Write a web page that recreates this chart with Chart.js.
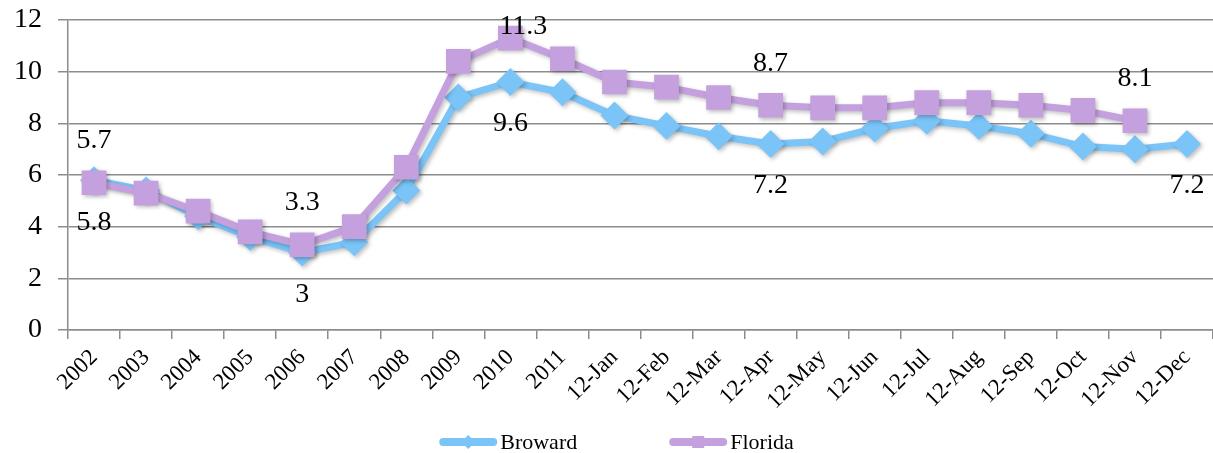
<!DOCTYPE html>
<html>
<head>
<meta charset="utf-8">
<script src="https://cdn.jsdelivr.net/npm/chart.js@4/dist/chart.umd.min.js"></script>
<style>
    html, body { margin: 0; padding: 0; background: #fff; overflow: hidden; }
    canvas { display: block; }
</style>
</head>
<body>
<canvas id="myChart" width="1213" height="453"></canvas>
<script>
// Данные
const labels = ['2002', '2003', '2004', '2005', '2006', '2007', '2008', '2009', '2010', '2011',
    '12-Jan', '12-Feb', '12-Mar', '12-Apr', '12-May', '12-Jun', '12-Jul', '12-Aug', '12-Sep',
    '12-Oct', '12-Nov', '12-Dec'];
const broward = [5.8, 5.4, 4.4, 3.6, 3, 3.4, 5.4, 9.0, 9.6, 9.2,
    8.3, 7.9, 7.5, 7.2, 7.3, 7.8, 8.1, 7.9, 7.6, 7.1, 7.0, 7.2];
const florida = [5.7, 5.3, 4.6, 3.8, 3.3, 4.0, 6.3, 10.4, 11.3, 10.5,
    9.6, 9.4, 9.0, 8.7, 8.6, 8.6, 8.8, 8.8, 8.7, 8.5, 8.1, null];
// Какие точки подписаны
const browardLabeled = [0, 4, 8, 13, 21];
const floridaLabeled = [0, 4, 8, 13, 20];

const blue = '#7AC4F8';
const purple = '#C4A0DE';
const serif = "'Liberation Serif', 'Times New Roman', serif";

// Тень под линиями
const shadowPlugin = {
    id: 'shadow',
    beforeDatasetsDraw(chart) {
        const ctx = chart.ctx;
        ctx.save();
        ctx.shadowColor = 'rgba(0,0,0,0.25)';
        ctx.shadowBlur = 4;
        ctx.shadowOffsetX = 2;
        ctx.shadowOffsetY = 2;
    },
    afterDatasetsDraw(chart) {
        chart.ctx.restore();
    }
};

// Подписи значений
const valueLabels = {
    id: 'valueLabels',
    afterDatasetsDraw(chart) {
        const ctx = chart.ctx;
        ctx.save();
        ctx.font = '28px ' + serif;
        ctx.fillStyle = '#000';
        ctx.textAlign = 'center';
        ctx.textBaseline = 'middle';
        const sets = [[0, browardLabeled, 42], [1, floridaLabeled, -42]];
        sets.forEach(([dsIndex, idxs, offset]) => {
            const meta = chart.getDatasetMeta(dsIndex);
            const data = chart.data.datasets[dsIndex].data;
            idxs.forEach((i) => {
                const pt = meta.data[i];
                if (!pt || data[i] === null) return;
                let y = pt.y + offset;
                let x = pt.x;
                // Excel сдвигает подпись, если она упирается в верх
                if (y < 27) {
                    y = 27;
                    x += 13;
                }
                ctx.fillText(String(data[i]), x, y);
            });
        });
        ctx.restore();
    }
};

// Легенда снизу
const bottomLegend = {
    id: 'bottomLegend',
    afterDraw(chart) {
        const ctx = chart.ctx;
        ctx.save();
        ctx.font = '22px ' + serif;
        ctx.textBaseline = 'middle';
        const lineW = 58;
        const gap = 92;
        const items = chart.data.datasets.map((ds) => ({
            ds: ds,
            w: lineW + 3 + ctx.measureText(ds.label).width
        }));
        const total = items.reduce((s, it) => s + it.w, 0) + gap * (items.length - 1);
        let x = (chart.width - total) / 2 + 10;
        const y = 442;
        items.forEach((it) => {
            const ds = it.ds;
            ctx.strokeStyle = ds.borderColor;
            ctx.lineWidth = 8;
            ctx.lineCap = 'round';
            ctx.beginPath();
            ctx.moveTo(x + 4, y);
            ctx.lineTo(x + lineW - 4, y);
            ctx.stroke();
            ctx.fillStyle = ds.borderColor;
            const cx = x + lineW / 2;
            if (ds.pointStyle === 'rect') {
                ctx.fillRect(cx - 6, y - 6, 12, 12);
            } else {
                ctx.beginPath();
                ctx.moveTo(cx, y - 7);
                ctx.lineTo(cx + 7, y);
                ctx.lineTo(cx, y + 7);
                ctx.lineTo(cx - 7, y);
                ctx.closePath();
                ctx.fill();
            }
            ctx.fillStyle = '#000';
            ctx.fillText(ds.label, x + lineW + 3, y + 1);
            x += it.w + gap;
        });
        ctx.restore();
    }
};

const ctx = document.getElementById('myChart');
new Chart(ctx, {
    type: 'line',
    data: {
        labels: labels,
        datasets: [
            {
                label: 'Broward',
                data: broward,
                order: 1,
                borderColor: blue,
                backgroundColor: blue,
                borderWidth: 7,
                pointStyle: 'rectRot',
                pointRadius: 14,
                pointBorderWidth: 0,
                tension: 0
            },
            {
                label: 'Florida',
                data: florida,
                order: 0,
                borderColor: purple,
                backgroundColor: purple,
                borderWidth: 7,
                pointStyle: 'rect',
                pointRadius: 17.5,
                pointBorderWidth: 0,
                tension: 0
            }
        ]
    },
    options: {
        responsive: false,
        animation: false,
        devicePixelRatio: 1,
        layout: {
            autoPadding: false,
            padding: {top: 20, right: 0, bottom: 0, left: 0}
        },
        plugins: {
            legend: {display: false},
            tooltip: {enabled: false}
        },
        scales: {
            x: {
                offset: true,
                grid: {
                    offset: true,
                    drawOnChartArea: false,
                    drawTicks: true,
                    tickLength: 9,
                    color: '#8c8c8c',
                    lineWidth: 1.5
                },
                border: {color: '#8c8c8c', width: 1.5},
                ticks: {
                    minRotation: 45,
                    maxRotation: 45,
                    autoSkip: false,
                    padding: 5,
                    color: '#000',
                    font: {family: serif, size: 23}
                },
                afterFit(scale) {
                    scale.height = 123;
                    scale.paddingLeft = 0;
                    scale.paddingRight = 0;
                }
            },
            y: {
                min: 0,
                max: 12,
                ticks: {
                    stepSize: 2,
                    padding: 16,
                    color: '#000',
                    font: {family: serif, size: 28}
                },
                grid: {
                    color: '#8c8c8c',
                    lineWidth: 1.5,
                    tickLength: 10
                },
                border: {color: '#8c8c8c', width: 1.5},
                afterFit(scale) {
                    scale.width = 68;
                    scale.paddingTop = 0;
                    scale.paddingBottom = 0;
                }
            }
        }
    },
    plugins: [shadowPlugin, valueLabels, bottomLegend]
});
</script>
</body>
</html>
